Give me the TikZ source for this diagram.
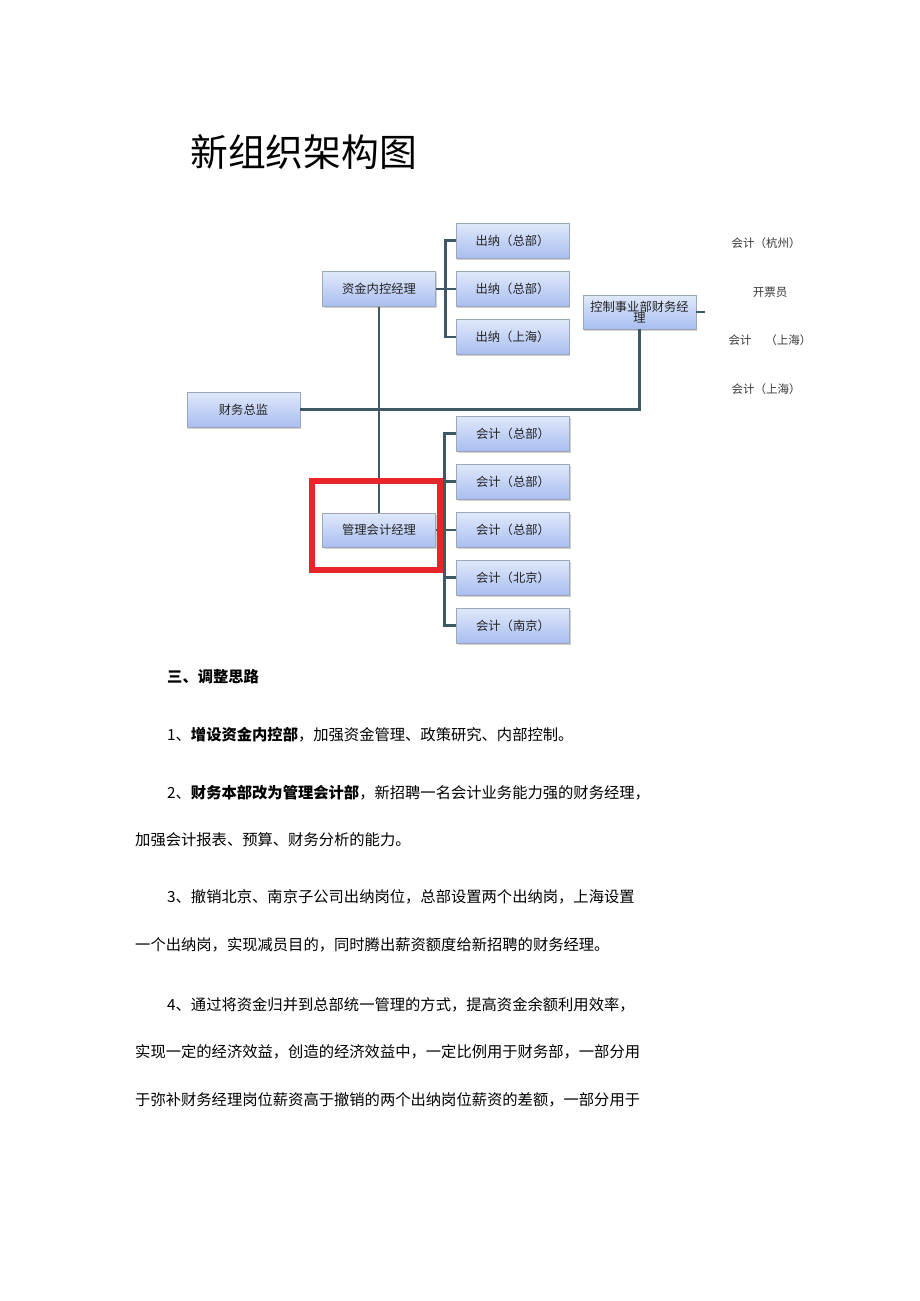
\documentclass[tikz,border=0pt]{standalone}
\usepackage{fontspec}
\setmainfont{Noto Sans CJK SC}
\usetikzlibrary{shadows}
\XeTeXlinebreaklocale "zh"
\XeTeXlinebreakskip=0pt plus 4pt
\definecolor{linec}{HTML}{3F5865}
\definecolor{boxtop}{HTML}{E0E9FB}
\definecolor{boxbot}{HTML}{A9BEF0}
\definecolor{boxdraw}{HTML}{9EA7B8}
\definecolor{hlred}{HTML}{E8262A}
\definecolor{txt}{HTML}{222222}
\tikzset{
  orgbox/.style={rectangle, draw=boxdraw, line width=0.8pt, top color=boxtop, bottom color=boxbot,
    minimum width=113pt, minimum height=35pt, inner sep=2pt, text=txt,
    font=\fontsize{12.3pt}{13pt}\selectfont,
    drop shadow={shadow xshift=1.2pt, shadow yshift=-1.5pt, opacity=0.35, fill=gray}},
  conn/.style={draw=linec, line width=2.8pt},
  sidelabel/.style={inner sep=0pt, text=txt!90, font=\fontsize{11.5pt}{12pt}\selectfont},
  bodyline/.style={anchor=west, inner sep=0pt, text=black, font=\fontsize{15.3pt}{16pt}\selectfont},
  titletext/.style={anchor=west, inner sep=0pt, font=\fontsize{37.8pt}{40pt}\selectfont}
}
\begin{document}
\begin{tikzpicture}[x=1pt,y=-1pt]
\useasboundingbox[fill=white] (0,0) rectangle (920,1301);

% title
\node[titletext] (title) at (190,152) {新组织架构图};

% boxes
\node[orgbox] (zj) at (379,289) {资金内控经理};
\node[orgbox] (cn1) at (512.5,240.5) {出纳（总部）};
\node[orgbox] (cn2) at (512.5,289) {出纳（总部）};
\node[orgbox] (cn3) at (512.5,337) {出纳（上海）};
\node[orgbox, minimum height=34pt, align=center, inner sep=1pt] (kz) at (639.5,312) {控制事业部财务经\\[-2pt]理};
\node[orgbox] (cw) at (243.5,409.5) {财务总监};
\node[orgbox, minimum height=34pt] (gl) at (379,530) {管理会计经理};
\node[orgbox] (kj1) at (513,433.5) {会计（总部）};
\node[orgbox] (kj2) at (513,481.5) {会计（总部）};
\node[orgbox] (kj3) at (513,530) {会计（总部）};
\node[orgbox] (kj4) at (513,577.5) {会计（北京）};
\node[orgbox] (kj5) at (513,625.5) {会计（南京）};

% side labels
\node[sidelabel] (r1) at (766,243) {会计（杭州）};
\node[sidelabel] (r2) at (770,292) {开票员};
\node[sidelabel] (r3) at (770,340) {会计\hspace{1.2em}（上海）};
\node[sidelabel] (r4) at (766,389) {会计（上海）};

% connectors
\coordinate (kzs) at (705,312);
\draw[conn] (zj.south) -- (gl.north);
\draw[conn] (cw.east) -| (kz.south);
\draw[conn] (kz.east) -- (kzs);
\draw[conn] (zj.east) -- (cn2.west);
\draw[conn] (cn1.west) -- ++(-10,0) |- (cn3.west);
\draw[conn] (gl.east) -- (kj3.west);
\draw[conn] (kj1.west) -- ++(-12,0) |- (kj5.west);
\draw[conn] (kj2.west) -- ++(-12,0);
\draw[conn] (kj4.west) -- ++(-12,0);

% highlight
\node[draw=hlred, line width=6pt, minimum width=128pt, minimum height=89pt, inner sep=0pt] (hl) at (376,525.5) {};

% body text
\node[bodyline] (t0) at (167,677) {\bfseries 三、调整思路};
\node[bodyline] (t1) at (167,735) {\makebox[408pt][s]{1、\textbf{增设资金内控部}，加强资金管理、政策研究、内部控制。}};
\node[bodyline] (t2) at (167,793) {\makebox[468pt][s]{2、\textbf{财务本部改为管理会计部}，新招聘一名会计业务能力强的财务经理，}};
\node[bodyline] (t2b) at (135,840) {加强会计报表、预算、财务分析的能力。};
\node[bodyline] (t3) at (167,897) {\makebox[470pt][s]{3、撤销北京、南京子公司出纳岗位，总部设置两个出纳岗，上海设置}};
\node[bodyline] (t3b) at (135,945) {\makebox[470pt][s]{一个出纳岗，实现减员目的，同时腾出薪资额度给新招聘的财务经理。}};
\node[bodyline] (t4) at (167,1005) {\makebox[476pt][s]{4、通过将资金归并到总部统一管理的方式，提高资金余额利用效率，}};
\node[bodyline] (t4b) at (135,1052) {\makebox[502pt][s]{实现一定的经济效益，创造的经济效益中，一定比例用于财务部，一部分用}};
\node[bodyline] (t4c) at (135,1100) {\makebox[502pt][s]{于弥补财务经理岗位薪资高于撤销的两个出纳岗位薪资的差额，一部分用于}};
\end{tikzpicture}
\end{document}
